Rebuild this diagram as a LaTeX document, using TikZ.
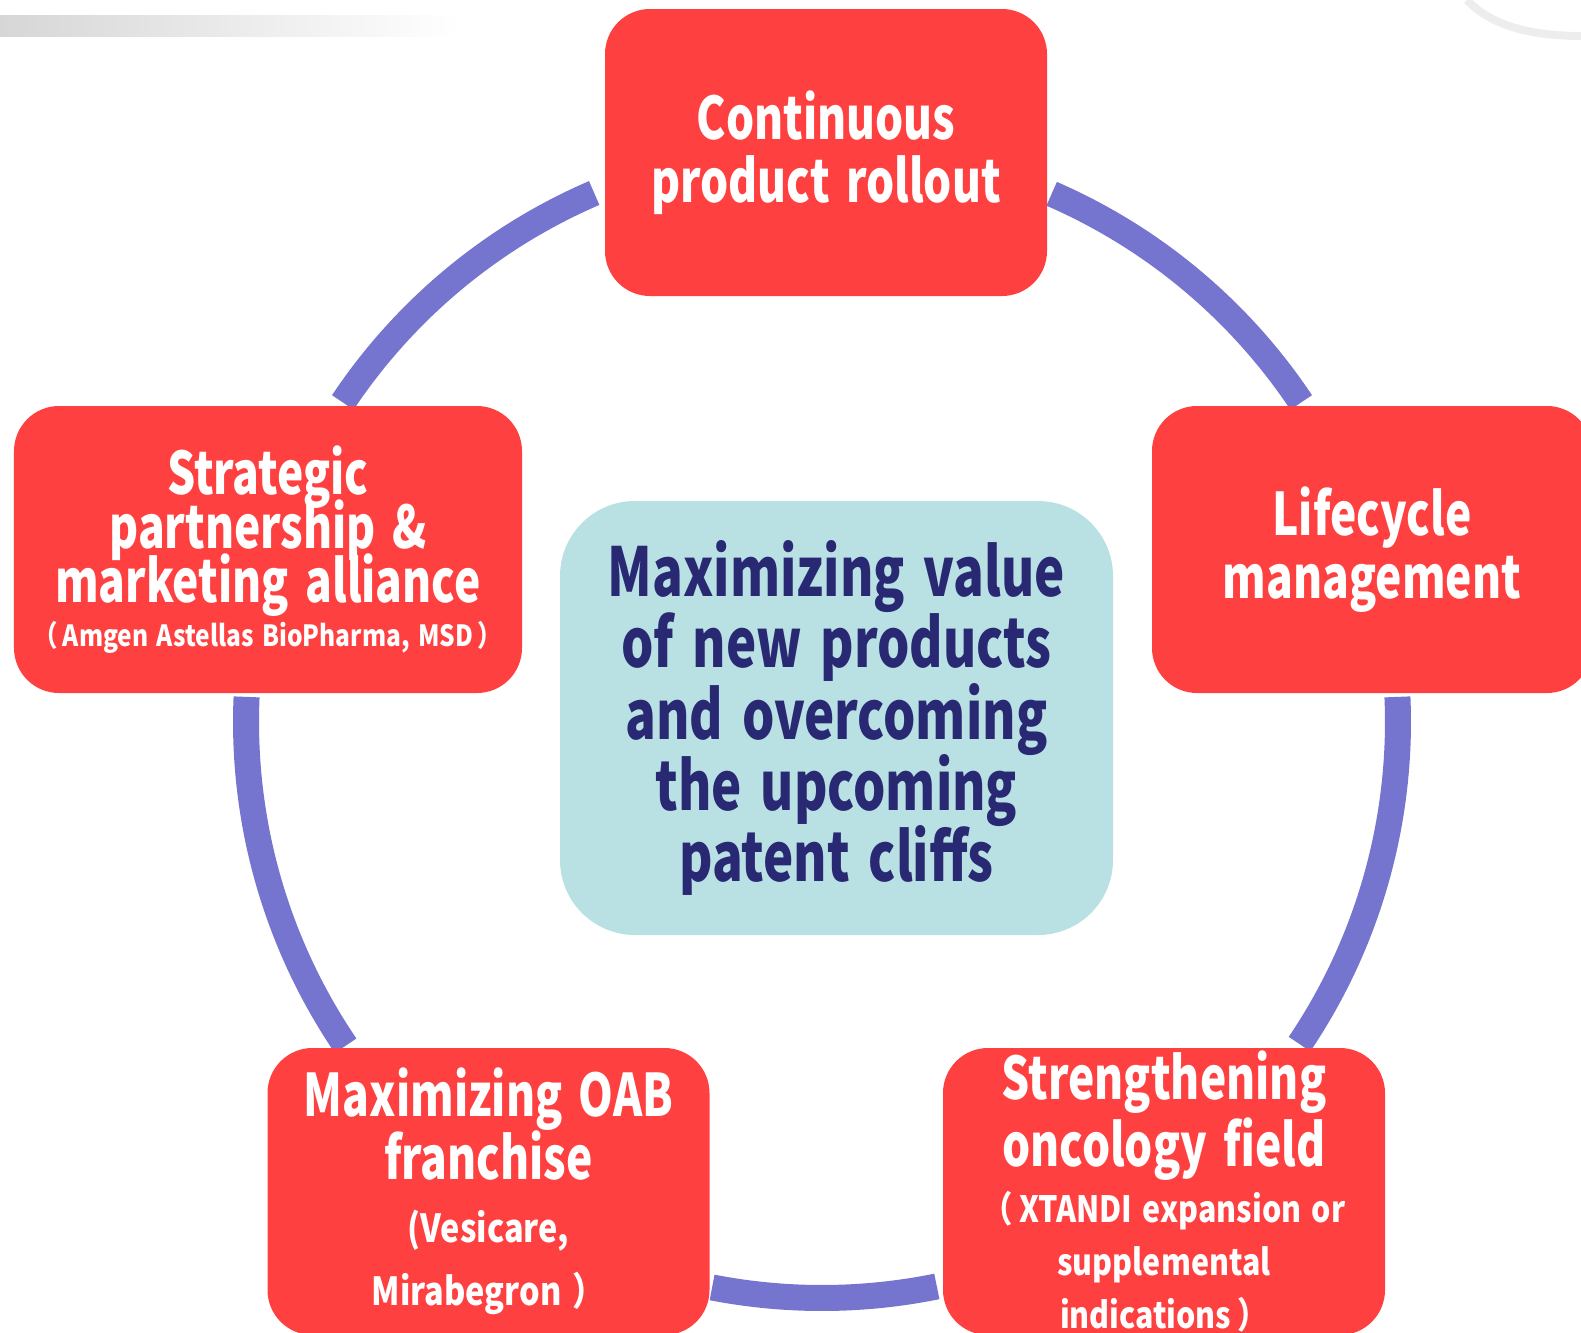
\documentclass[tikz,border=0pt]{standalone}
\usepackage{fontspec}
\setmainfont{Noto Sans CJK JP}[FakeStretch=0.755, WordSpace=1.6]
\newfontfamily\notefont{Noto Sans CJK JP}[FakeStretch=0.84, WordSpace=1.5]
\setlength{\lineskiplimit}{-5cm}

\definecolor{boxred}{RGB}{255,64,64}
\definecolor{ringblue}{RGB}{117,117,208}
\definecolor{goalfill}{RGB}{185,224,227}
\definecolor{goalnavy}{RGB}{40,40,115}

\begin{document}
\begin{tikzpicture}
            [
                redbox/.style={fill=boxred, rounded corners=0.45cm, text=white, align=center,
                    inner sep=0pt, minimum width=4.42cm, minimum height=2.87cm,
                    font=\bfseries\fontsize{16.7}{17.9}\selectfont},
                goalbox/.style={fill=goalfill, rounded corners=0.75cm, text=goalnavy, align=center,
                    inner sep=0pt, minimum width=5.53cm, minimum height=4.34cm,
                    font=\bfseries\fontsize{19.2}{20.3}\selectfont},
                ring/.style={ringblue, line width=0.26cm}
            ]
            \useasboundingbox (0,0) rectangle (15.81,-13.33);
            \clip (0,0) rectangle (15.81,-13.33);

            % faint slide shadows
            \shade[left color=black!16, right color=white] (0,-0.15) rectangle (4.6,-0.36);
            \draw[black!7, line width=0.08cm] (14.67,0) .. controls (14.9,-0.25) and (15.3,-0.36) .. (15.81,-0.36);

            % the cycle
            \coordinate (hub) at (8.22,-7.22);
            \draw[ring] (hub) ++(33.7:5.76) arc[start angle=33.7, end angle=66.5, radius=5.76];
            \draw[ring] (hub) ++(113.3:5.76) arc[start angle=113.3, end angle=146.3, radius=5.76];
            \draw[ring] (hub) ++(177.5:5.76) arc[start angle=177.5, end angle=214.2, radius=5.76];
            \draw[ring] (hub) ++(259:5.76) arc[start angle=259, end angle=281.5, radius=5.76];
            \draw[ring] (hub) ++(326:5.76) arc[start angle=326, end angle=362.5, radius=5.76];

            \node[redbox] (rollout) at (8.26,-1.525) {Continuous\\product rollout};
            \node[redbox, minimum width=4.40cm] (lifecycle) at (13.72,-5.495) {Lifecycle\\management};
            \node[redbox, minimum width=5.08cm, font=\bfseries\fontsize{16.7}{15.4}\selectfont]
                (alliance) at (2.68,-5.495)
                {Strategic\\partnership \&\\marketing alliance\\[-0.1cm]
                 {\notefont\fontsize{8.3}{8.3}\selectfont （\,Amgen Astellas BioPharma, MSD\,）}};
            \node[redbox, font=\bfseries\fontsize{16.7}{15.1}\selectfont]
                (oncology) at (11.64,-11.915)
                {Strengthening\\[0.14cm]oncology field\\[0.02cm]
                 {\notefont\fontsize{10.3}{10.3}\selectfont （\,XTANDI expansion or}\\
                 {\notefont\fontsize{10.3}{10.3}\selectfont supplemental}\\
                 {\notefont\fontsize{10.3}{10.3}\selectfont indications\,）}};
            \node[redbox] (oab) at (4.885,-11.915)
                {Maximizing OAB\\franchise\\
                 {\notefont\fontsize{11}{11}\selectfont (Vesicare,}\\
                 {\notefont\fontsize{11}{11}\selectfont Mirabegron ）}};

            \node[goalbox] (goal) at (8.365,-7.18)
                {Maximizing value\\of new products\\and overcoming\\the upcoming\\patent cliffs};
        \end{tikzpicture}
\end{document}
